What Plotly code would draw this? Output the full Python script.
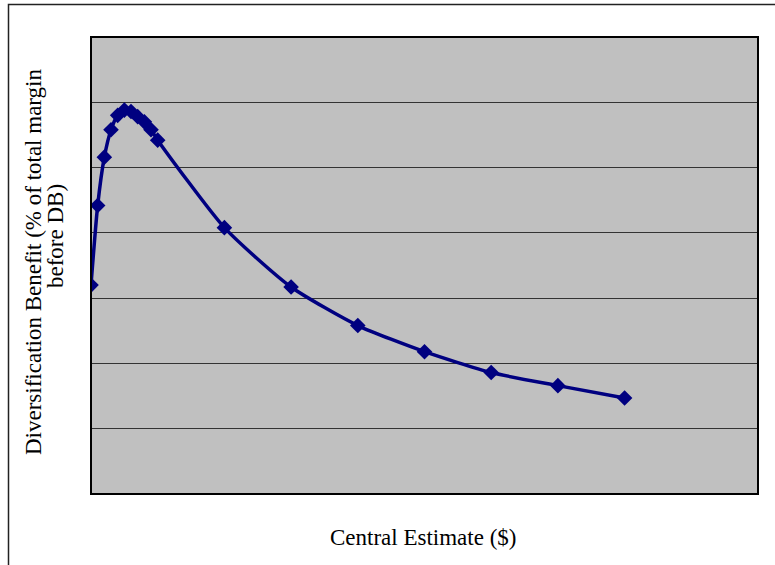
import plotly.graph_objects as go

central_estimate = [0, 0.1, 0.2, 0.3, 0.4, 0.5, 0.6, 0.7, 0.8, 0.9, 1.0,
                    2, 3, 4, 5, 6, 7, 8]
diversification_benefit = [16.0, 22.1, 25.8, 27.9, 29.0, 29.4, 29.3, 28.9, 28.5,
                           27.9, 27.1, 20.4, 15.85, 12.9, 10.9, 9.3, 8.3, 7.35]

x_title = "Central Estimate ($)"
y_title_line1 = "Diversification Benefit (% of total margin"
y_title_line2 = "before DB)"

W, H = 775, 565
L, R, T, B = 91, 17, 37, 71
pw, ph = W - L - R, H - T - B
bottom = H - B


def px_x(v):
    return (v - L) / pw


def px_y(v):
    return (bottom - v) / ph


fig = go.Figure()
fig.add_trace(go.Scatter(
    x=central_estimate, y=diversification_benefit,
    mode="lines+markers",
    line=dict(color="#000080", width=3.5, shape="spline", smoothing=0.6),
    marker=dict(symbol="diamond", size=12, color="#000080"),
    showlegend=False, hoverinfo="skip",
))

font = "Liberation Serif, Times New Roman, serif"
fs = 23

fig.update_layout(
    width=W, height=H,
    margin=dict(l=L, r=R, t=T, b=B),
    paper_bgcolor="white",
    plot_bgcolor="#C0C0C0",
    font=dict(family=font, size=fs, color="black"),
    xaxis=dict(range=[0, 10], showgrid=False, zeroline=False,
               showticklabels=False, ticks="", showline=False),
    yaxis=dict(range=[0, 35], dtick=5, showgrid=True, gridcolor="#333333",
               gridwidth=1, zeroline=False, showticklabels=False, ticks="",
               showline=False),
    shapes=[
        dict(type="rect", xref="paper", yref="paper", x0=0, x1=1, y0=0, y1=1,
             line=dict(color="black", width=2), layer="above"),
        dict(type="rect", xref="paper", yref="paper",
             x0=px_x(8.5), x1=px_x(790),
             y0=px_y(4.5), y1=px_y(600),
             line=dict(color="#222222", width=1.5), layer="below"),
    ],
    annotations=[
        dict(text=x_title, xref="paper", yref="paper",
             x=px_x(423), y=px_y(537),
             xanchor="center", yanchor="middle", showarrow=False,
             font=dict(family=font, size=fs)),
        dict(text=y_title_line1, xref="paper", yref="paper",
             x=px_x(33), y=px_y(262),
             xanchor="center", yanchor="middle", showarrow=False,
             textangle=-90, font=dict(family=font, size=fs)),
        dict(text=y_title_line2, xref="paper", yref="paper",
             x=px_x(55), y=px_y(236),
             xanchor="center", yanchor="middle", showarrow=False,
             textangle=-90, font=dict(family=font, size=fs)),
    ],
)

fig.write_html("out.html")
